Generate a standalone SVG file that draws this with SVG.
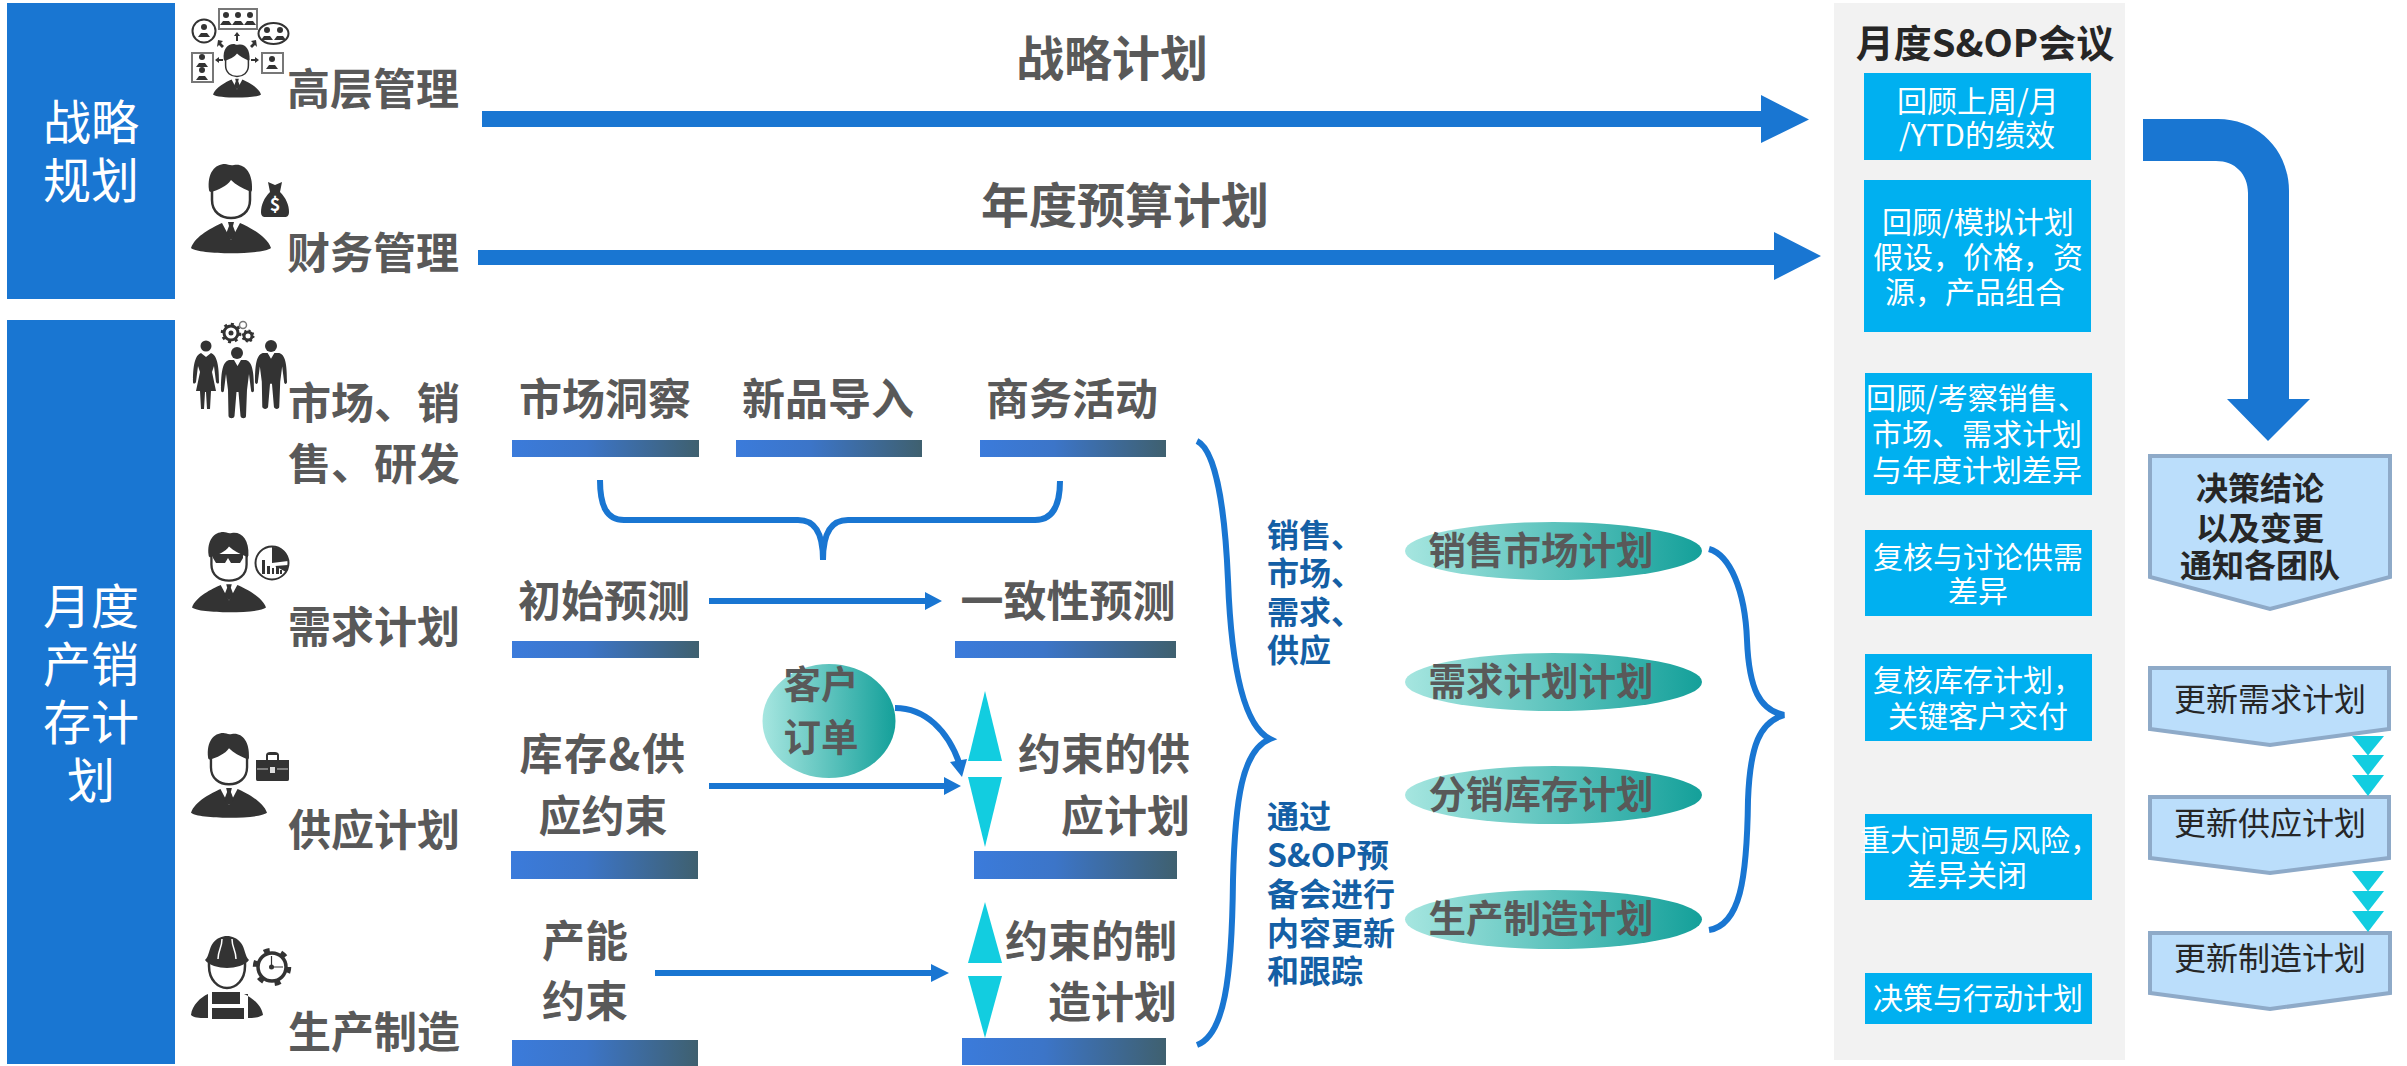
<svg xmlns="http://www.w3.org/2000/svg" xmlns:xlink="http://www.w3.org/1999/xlink" width="2407" height="1066" viewBox="0 0 2407 1066">
<style>
text{font-family:"Noto Sans CJK SC","Noto Sans",sans-serif}
.side{font-size:48px;fill:#fff;text-anchor:middle}
.lab{font-size:43px;font-weight:700;fill:#595959}
.mid{text-anchor:middle}
.end{text-anchor:end}
.big{font-size:48px;font-weight:700;fill:#595959;text-anchor:middle}
.oval{font-size:37.500px;font-weight:700;fill:#595959;text-anchor:middle}
.note{font-size:32px;font-weight:700;fill:#145FA5}
.item{font-size:30px;fill:#fff;text-anchor:middle}
.dark{font-size:32px;fill:#262626;text-anchor:middle}
.blue{fill:#1976D2}
.bar{fill:url(#barGrad)}
.cy{fill:#12CDE0}
.tab{fill:#00B0F0}
.pent{fill:#BBDEFB;stroke:#8EAAC8;stroke-width:4}
.ell{fill:url(#ellGrad)}
.ln{fill:none;stroke:#1976D2;stroke-width:6}
.ic{fill:#333}
.ico{fill:none;stroke:#333;stroke-width:2}
.box{fill:#fff;stroke:#777;stroke-width:2}
</style>
<defs>
<linearGradient id="barGrad"><stop offset="0" stop-color="#3B7BDB"/><stop offset="0.4" stop-color="#3C75C8"/><stop offset="1" stop-color="#3F606F"/></linearGradient>
<linearGradient id="ellGrad"><stop offset="0" stop-color="#A6E6E0"/><stop offset="1" stop-color="#14A09A"/></linearGradient>
<g id="person">
<path class="ic" d="M0,84C4,72 22,63 31,59L40,76L49,59C58,63 76,72 80,84C72,91 8,91 0,84Z"/>
<path class="ic" d="M37,58H43L42,62L45,70L40,76L35,70L38,62Z"/>
<path d="M21,24V36C21,48 30,54 40,54C50,54 59,48 59,36V24" fill="#fff" stroke="#333" stroke-width="2.5"/>
</g>
<path id="hair" class="ic" d="M18,26C16,9 24,0 34,0C37,0 39,2 43,1C53,-1 62,8 61,26C60,29 59,28 58,27C51,24 45,21 40,16C36,22 27,26 20,28C19,28 18,27 18,26Z"/>
<g id="tiny"><circle class="ic" cx="0" cy="-5" r="3"/><path class="ic" d="M-6,5L-3,1H3L6,5Z"/></g>
<path id="man" class="ic" d="M8,0L13,0L16.5,6L20,0L25,0C31,2 33,10 33,30C33,33 30,33 30,30L28,14L26,30L25,56C25,59 20,59 19.5,56L17.5,32H15.5L13.5,56C13,59 8,59 7.5,56L7,30L5,14L3,30C3,33 0,33 0,30C0,10 2,2 8,0Z"/>
</defs>

<g id="strategy-band"><rect class="blue" x="7" y="3" width="168" height="296"/><text class="side" x="91" y="140">战略</text><text class="side" x="91" y="198">规划</text></g>
<g id="monthly-band"><rect class="blue" x="7" y="320" width="168" height="744"/><text class="side" x="91" y="624">月度</text><text class="side" x="91" y="682">产销</text><text class="side" x="91" y="740">存计</text><text class="side" x="91" y="798">划</text></g>

<g id="exec">
<rect class="box" x="219" y="9" width="38" height="20"/><use xlink:href="#tiny" x="226" y="20"/><use xlink:href="#tiny" x="238" y="20"/><use xlink:href="#tiny" x="250" y="20"/>
<ellipse class="ico" cx="204" cy="31" rx="11.5" ry="11.5"/><use xlink:href="#tiny" x="204" y="32"/>
<ellipse class="ico" cx="273.500" cy="33.500" rx="15" ry="10.500"/><use xlink:href="#tiny" x="267" y="35"/><use xlink:href="#tiny" x="280" y="35"/>
<rect class="box" x="192" y="53" width="21" height="29"/><use xlink:href="#tiny" x="202" y="62"/><use xlink:href="#tiny" x="202" y="75"/>
<rect class="box" x="262" y="53" width="21" height="20"/><use xlink:href="#tiny" x="272" y="64"/>
<path class="ic" d="M237,32L240,36H238V41H236V36H234ZM218,40L223,41L221,43L224,46L222,48L219,45L217,47ZM256,40L251,41L253,43L250,46L252,48L255,45L257,47ZM215,60L219,57V59H223V61H219V63ZM259,60L255,57V59H251V61H255V63Z"/>
<g transform="translate(213 44) scale(0.6)"><use xlink:href="#person"/><use xlink:href="#hair"/></g>
<text class="lab" x="287" y="105">高层管理</text>
</g>
<g id="finance">
<g transform="translate(191 164)"><use xlink:href="#person"/><use xlink:href="#hair"/></g>
<path class="ic" d="M268,182L275,185L282,182L280,192C286,198 289,205 289,212C289,216 287,217 285,217H265C263,217 261,216 261,212C261,205 264,198 270,192Z"/>
<text x="275" y="211" font-size="18" font-weight="700" fill="#fff" text-anchor="middle">$</text>
<text class="lab" x="287" y="269">财务管理</text>
</g>
<g id="market">
<circle class="ic" cx="206" cy="346" r="5.500"/><circle class="ic" cx="237" cy="353" r="6"/><circle class="ic" cx="271" cy="346" r="6"/>
<path class="ic" d="M201,353L206,357L211,353C216,355 219,362 219,382C219,384 217,384 216,382L214,366L212,372L216,391H211L210,409H207L206,392H205L204,409H201L200,391H196L200,372L198,366L196,382C195,384 193,384 193,382C193,362 196,355 201,353Z"/>
<use xlink:href="#man" x="221" y="360"/><use xlink:href="#man" transform="translate(255 353) scale(0.97 0.96)"/>
<circle cx="231" cy="333" r="7" fill="none" stroke="#333" stroke-width="3"/><circle cx="231" cy="333" r="9" fill="none" stroke="#333" stroke-width="2.500" stroke-dasharray="3 4"/><circle class="ic" cx="231" cy="333" r="2.500"/>
<circle cx="248" cy="336" r="4" fill="none" stroke="#333" stroke-width="3"/><circle cx="248" cy="336" r="5.500" fill="none" stroke="#333" stroke-width="2" stroke-dasharray="2 2.300"/><circle cx="243" cy="325" r="3.500" fill="none" stroke="#777" stroke-width="1.500"/>
<text class="lab" x="288" y="419">市场、销</text><text class="lab" x="288" y="480">售、研发</text>
</g>
<g id="demand">
<g transform="translate(192 532) scale(0.925 0.9)"><use xlink:href="#person"/><use xlink:href="#hair"/></g>
<path class="ic" d="M213,554H243V558L240,563H231L228,558L225,563H216L213,558Z"/>
<circle cx="272" cy="563" r="16.500" fill="#fff" stroke="#333" stroke-width="2"/><path class="ic" d="M272,547A16,16 0 0 1 288,561L272,563ZM275,566L288,565A16,16 0 0 1 286,572Z"/>
<path class="ic" d="M262,560H265V574H262ZM267,566H270V574H267ZM272,568H274V574H272ZM276,566H279V574H276ZM280,570H282V574H280Z"/>
<text class="lab" x="288" y="643">需求计划</text>
</g>
<g id="supply">
<g transform="translate(191 733) scale(0.95)"><use xlink:href="#person"/><use xlink:href="#hair"/></g>
<path class="ic" d="M256,760H266V755C266,753 268,752 270,752H275C277,752 279,753 279,755V760H289V779C289,781 288,781 286,781H259C257,781 256,781 256,779ZM268,760H277V755H268Z"/>
<path d="M257,769H268M277,769H288" stroke="#ccc" stroke-width="1"/><rect x="270" y="767" width="5" height="6" fill="#ddd"/>
<text class="lab" x="288" y="846">供应计划</text>
</g>
<g id="production">
<path d="M209,962V966C209,980 218,988 227,988C236,988 245,980 245,966V962" fill="#fff" stroke="#333" stroke-width="2.500"/>
<path class="ic" d="M205,960C209,957 209,948 213,943C217,938 222,936 227,936C232,936 237,938 241,943C245,948 245,957 249,960C246,965 235,968 227,968C219,968 208,965 205,960Z"/>
<path d="M218,959C218,950 222,948 222,939M236,959C236,950 232,948 232,939" fill="none" stroke="#fff" stroke-width="1.500"/>
<path class="ic" d="M191,1015C192,1005 201,997 208,994V1018C200,1018 194,1018 191,1015ZM212,992H240V1004H212ZM212,1008H244V1019H212ZM244,994C253,998 262,1006 263,1015C258,1018 252,1018 248,1018V994Z"/>
<circle cx="272" cy="967" r="14" fill="#fff" stroke="#333" stroke-width="3.500"/><circle cx="272" cy="967" r="17" fill="none" stroke="#333" stroke-width="4.500" stroke-dasharray="6 11.800"/>
<path d="M271.500,956V967H283" fill="none" stroke="#333" stroke-width="1.200"/><circle class="ic" cx="271.500" cy="967" r="2.500"/>
<text class="lab" x="288" y="1048">生产制造</text>
</g>

<g id="connectors">
<path class="blue" d="M482,111H1761V95L1809,119.500L1761,143V127H482Z"/>
<path class="blue" d="M478,250H1774V232L1821,256L1774,280V265H478Z"/>
<path class="blue" d="M2143,119H2218C2258,119 2289,150 2289,191V399H2310L2268,441L2227,399H2248V193C2248,174 2235,161 2216,161H2143Z"/>
<path class="ln" d="M600,480C600,505 606,520 624,520H798C813,520 823,530 823,560C823,530 833,520 848,520H1035C1053,520 1060,505 1060,481"/>
<path class="blue" d="M709,598H925V592L942,601L925,610V604H709Z"/>
<path class="blue" d="M709,783H944V777L961,786L944,795V789H709Z"/>
<path class="blue" d="M655,970H931V964L949,973L931,982V976H655Z"/>
<path class="ln" d="M895,708C925,708 948,730 960,765"/><path class="blue" d="M967,759L950,762L962,777Z"/>
<path class="ln" d="M1197,441C1216,450 1225,510 1228,580C1231,660 1242,725 1270,739C1242,750 1235,800 1233,880C1232,980 1224,1035 1197,1045"/>
<path class="ln" d="M1709,549C1730,555 1745,590 1747,640C1749,690 1760,710 1784,715C1760,722 1750,745 1748,800C1747,880 1740,925 1709,930"/>
</g>

<g id="strategic-plan"><text class="big" x="1112" y="76">战略计划</text></g>
<g id="annual-budget"><text class="big" x="1125" y="223">年度预算计划</text></g>

<g id="market-insight"><text class="lab mid" x="605" y="415">市场洞察</text><rect class="bar" x="512" y="440" width="187" height="17"/></g>
<g id="npi"><text class="lab mid" x="828" y="415">新品导入</text><rect class="bar" x="736" y="440" width="186" height="17"/></g>
<g id="biz"><text class="lab mid" x="1072" y="415">商务活动</text><rect class="bar" x="980" y="440" width="186" height="17"/></g>
<g id="init-forecast"><text class="lab mid" x="604" y="617">初始预测</text><rect class="bar" x="512" y="641" width="187" height="17"/></g>
<g id="consensus"><text class="lab mid" x="1068" y="617">一致性预测</text><rect class="bar" x="955" y="641" width="221" height="17"/></g>
<g id="inventory"><text class="lab mid" x="603" y="770" letter-spacing="1.5">库存&amp;供</text><text class="lab mid" x="603" y="832">应约束</text><rect class="bar" x="511" y="851" width="187" height="28"/></g>
<g id="capacity"><text class="lab mid" x="585" y="957">产能</text><text class="lab mid" x="585" y="1017">约束</text><rect class="bar" x="512" y="1040" width="186" height="26"/></g>
<g id="order"><ellipse class="ell" cx="829" cy="721" rx="66.500" ry="57"/><text class="oval" x="821" y="698">客户</text><text class="oval" x="821" y="751">订单</text></g>
<g id="c-supply"><path class="cy" d="M985,691L1002,761H968Z"/><path class="cy" d="M968,777H1002L985,847Z"/><text class="lab end" x="1190" y="770">约束的供</text><text class="lab end" x="1190" y="832">应计划</text><rect class="bar" x="974" y="851" width="203" height="28"/></g>
<g id="c-mfg"><path class="cy" d="M985,902L1002,963H968Z"/><path class="cy" d="M968,976H1002L985,1038Z"/><text class="lab end" x="1177" y="957">约束的制</text><text class="lab end" x="1177" y="1018">造计划</text><rect class="bar" x="962" y="1038" width="204" height="27"/></g>

<g id="note-1"><text class="note" x="1267" y="547">销售、</text><text class="note" x="1267" y="585">市场、</text><text class="note" x="1267" y="624">需求、</text><text class="note" x="1267" y="662">供应</text></g>
<g id="note-2"><text class="note" x="1267" y="828">通过</text><text class="note" x="1267" y="867">S&amp;OP预</text><text class="note" x="1267" y="906">备会进行</text><text class="note" x="1267" y="945">内容更新</text><text class="note" x="1267" y="983">和跟踪</text></g>

<g id="plan-sales"><ellipse class="ell" cx="1553.500" cy="551" rx="148.500" ry="29"/><text class="oval" x="1541" y="564">销售市场计划</text></g>
<g id="plan-demand"><ellipse class="ell" cx="1553.500" cy="682" rx="148.500" ry="29"/><text class="oval" x="1541" y="695">需求计划计划</text></g>
<g id="plan-dist"><ellipse class="ell" cx="1553.500" cy="795" rx="148.500" ry="29"/><text class="oval" x="1541" y="808">分销库存计划</text></g>
<g id="plan-mfg"><ellipse class="ell" cx="1553.500" cy="919.500" rx="148.500" ry="29.500"/><text class="oval" x="1541" y="932">生产制造计划</text></g>

<g id="sop-panel"><rect x="1834" y="3" width="291" height="1057" fill="#F2F2F2"/><text x="1985" y="57" font-size="38" font-weight="700" fill="#262626" text-anchor="middle">月度S&amp;OP会议</text></g>
<g id="sop-1"><rect class="tab" x="1864" y="73" width="227" height="87"/><text class="item" x="1978" y="112">回顾上周/月</text><text class="item" x="1977" y="146">/YTD的绩效</text></g>
<g id="sop-2"><rect class="tab" x="1864" y="180" width="227" height="152"/><text class="item" x="1978" y="233">回顾/模拟计划</text><text class="item" x="1978" y="268">假设，价格，资</text><text class="item" x="1975" y="303">源，产品组合</text></g>
<g id="sop-3"><rect class="tab" x="1865" y="373" width="227" height="122"/><text class="item" x="1977" y="409">回顾/考察销售、</text><text class="item" x="1977" y="445">市场、需求计划</text><text class="item" x="1977" y="481">与年度计划差异</text></g>
<g id="sop-4"><rect class="tab" x="1865" y="530" width="227" height="86"/><text class="item" x="1978" y="568">复核与讨论供需</text><text class="item" x="1978" y="602">差异</text></g>
<g id="sop-5"><rect class="tab" x="1865" y="654" width="227" height="87"/><text class="item" x="1978" y="691">复核库存计划，</text><text class="item" x="1978" y="727">关键客户交付</text></g>
<g id="sop-6"><rect class="tab" x="1865" y="814" width="227" height="86"/><text class="item" x="1980" y="851">重大问题与风险，</text><text class="item" x="1967" y="886">差异关闭</text></g>
<g id="sop-7"><rect class="tab" x="1865" y="973" width="227" height="51"/><text class="item" x="1978" y="1009">决策与行动计划</text></g>

<g id="decision"><path class="pent" d="M2150,456H2390V577L2270,609L2150,577Z"/><text class="dark" font-weight="700" x="2260" y="500">决策结论</text><text class="dark" font-weight="700" x="2260" y="540">以及变更</text><text class="dark" font-weight="700" x="2260" y="577">通知各团队</text></g>
<g id="update-demand"><path class="pent" d="M2150,668H2389V729L2270,745L2150,729Z"/><text class="dark" x="2270" y="711">更新需求计划</text></g>
<g id="update-supply"><path class="pent" d="M2150,797H2389V858L2270,873L2150,858Z"/><text class="dark" x="2270" y="835">更新供应计划</text></g>
<g id="update-mfg"><path class="pent" d="M2150,933H2390V993L2270,1009L2150,993Z"/><text class="dark" x="2270" y="970">更新制造计划</text></g>
<g id="flow-1"><path class="cy" d="M2352,736H2384L2368,755.500Z"/><path class="cy" d="M2352,755H2384L2368,775.500Z"/><path class="cy" d="M2352,775H2384L2368,796Z"/></g>
<g id="flow-2"><path class="cy" d="M2352,871H2384L2368,891.500Z"/><path class="cy" d="M2352,891H2384L2368,911.500Z"/><path class="cy" d="M2352,911H2384L2368,932Z"/></g>
</svg>
